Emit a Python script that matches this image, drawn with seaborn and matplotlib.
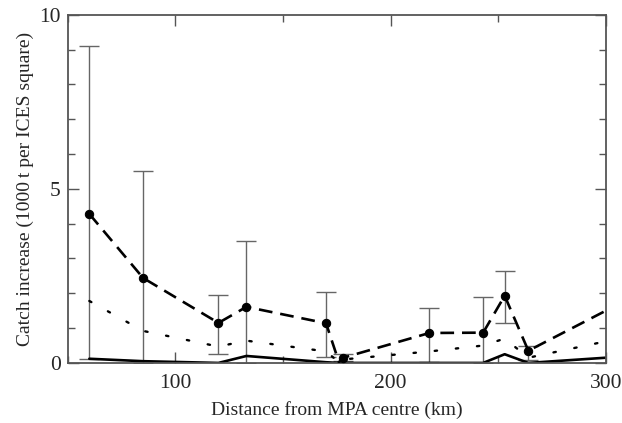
import numpy as np
import pandas as pd
import seaborn as sns
import matplotlib.pyplot as plt
from matplotlib.ticker import MultipleLocator

# distance from MPA centre (km)
dist = [60, 85, 120, 133, 170, 176, 178, 218, 243, 253, 264, 300]
# catch increase (1000 t per ICES square)
mean_catch = [4.28, 2.44, 1.15, 1.61, 1.14, 0.02, 0.15, 0.86, 0.87, 1.93, 0.35, 1.5]
mid_catch = [1.78, 0.92, 0.47, 0.64, 0.33, 0.02, 0.1, 0.33, 0.5, 0.7, 0.15, 0.62]
low_catch = [0.12, 0.05, 0.0, 0.2, 0.02, 0.0, 0.0, 0.0, 0.0, 0.25, 0.0, 0.15]
err_lo = [0.1, 0.0, 0.26, 0.0, 0.16, np.nan, 0.05, 0.02, 0.0, 1.16, 0.09, np.nan]
err_hi = [9.09, 5.5, 1.95, 3.5, 2.05, np.nan, 0.25, 1.59, 1.9, 2.65, 0.49, np.nan]

df = pd.DataFrame({'dist': dist, 'mean': mean_catch, 'mid': mid_catch,
                   'low': low_catch, 'lo': err_lo, 'hi': err_hi})

sns.set_style('ticks')
plt.rcParams['font.family'] = ['Liberation Serif', 'DejaVu Serif']

fig = plt.figure(figsize=(6.22, 4.23), dpi=100)
ax = fig.add_axes([0.109, 0.142, 0.865, 0.823])

# error bars
eb = df.dropna()
ax.errorbar(eb['dist'], eb['mean'],
            yerr=[eb['mean'] - eb['lo'], eb['hi'] - eb['mean']],
            fmt='none', ecolor='#666666', elinewidth=1.0, capsize=7, capthick=1.0, zorder=1)

# markers only where there are error bars
marked = [i for i in range(len(dist)) if not np.isnan(err_hi[i])]
sns.lineplot(data=df, x='dist', y='mean', ax=ax, color='black', lw=1.9,
             marker='o', markersize=6, markeredgecolor='black', markevery=marked, zorder=3)
ax.lines[-1].set_dashes([5.2, 3.0])
sns.lineplot(data=df, x='dist', y='mid', ax=ax, color='black', lw=1.7, zorder=2)
ax.lines[-1].set_dashes([1, 8])
ax.lines[-1].set_dash_capstyle('round')
sns.lineplot(data=df, x='dist', y='low', ax=ax, color='black', lw=1.9, zorder=2)

ax.set_xlim(50, 300)
ax.set_ylim(0, 10)
ax.xaxis.set_major_locator(MultipleLocator(100))
ax.xaxis.set_minor_locator(MultipleLocator(50))
ax.yaxis.set_major_locator(MultipleLocator(5))
ax.yaxis.set_minor_locator(MultipleLocator(1))
ax.tick_params(which='both', direction='in', top=True, right=True, color='#555555',
               labelsize=15.5, pad=5)
ax.tick_params(axis='x', which='both', pad=8)
ax.tick_params(which='major', length=8, width=1)
ax.tick_params(which='minor', length=5, width=1)
for s in ax.spines.values():
    s.set_color('#555555')
    s.set_linewidth(1.3)

ax.set_xlabel('Distance from MPA centre (km)', fontsize=14, labelpad=6)
ax.set_ylabel('Catch increase (1000\u2009t per ICES square)', fontsize=14, labelpad=4)

fig.savefig('out.png', dpi=100)
